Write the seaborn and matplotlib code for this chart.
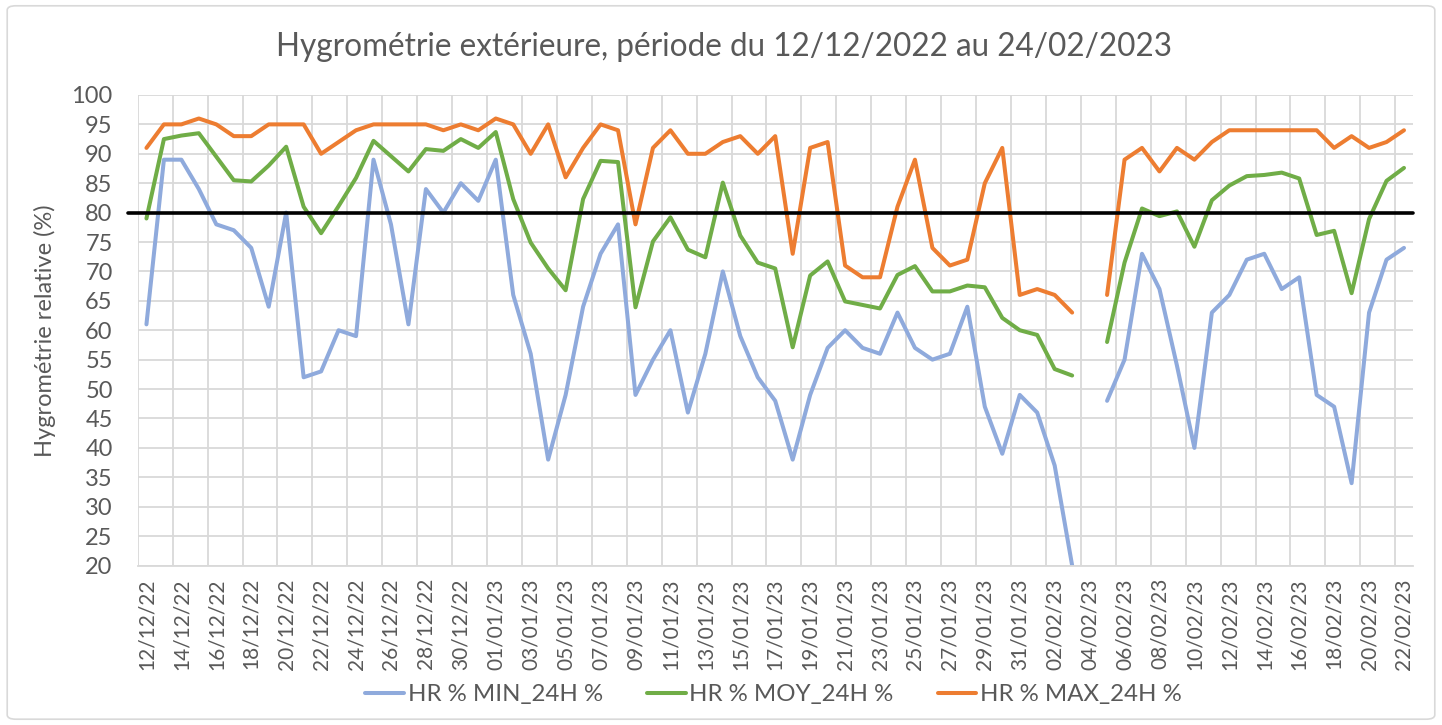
import numpy as np
import pandas as pd
import matplotlib.pyplot as plt
import seaborn as sns
from matplotlib.patches import FancyBboxPatch

nan = np.nan

# 73 jours, du 12/12/22 au 22/02/23 (pas de mesure le 04/02)
dates = pd.date_range("2022-12-12", "2023-02-22", freq="D")

hr_min = [61, 89, 89, 84, 78, 77, 74, 64, 80, 52, 53, 60, 59, 89, 78, 61, 84, 80, 85, 82,
          89, 66, 56, 38, 49, 64, 73, 78, 49, 55, 60, 46, 56, 70, 59, 52, 48, 38, 49, 57,
          60, 57, 56, 63, 57, 55, 56, 64, 47, 39, 49, 46, 37, 20, nan, 48, 55, 73, 67, 54,
          40, 63, 66, 72, 73, 67, 69, 49, 47, 34, 63, 72, 74]
hr_moy = [79.0, 92.5, 93.1, 93.5, 89.5, 85.5, 85.3, 88.0, 91.2, 81.0, 76.5, 81.1, 85.9, 92.2,
          89.6, 87.0, 90.8, 90.5, 92.5, 91.0, 93.7, 82.3, 74.9, 70.5, 66.8, 82.3, 88.8, 88.6,
          63.9, 75.1, 79.2, 73.7, 72.4, 85.1, 76.1, 71.5, 70.5, 57.1, 69.3, 71.7, 64.9, 64.3,
          63.7, 69.4, 70.9, 66.6, 66.6, 67.6, 67.3, 62.1, 60.0, 59.2, 53.4, 52.3, nan, 58.0,
          71.5, 80.7, 79.4, 80.2, 74.2, 82.1, 84.6, 86.2, 86.4, 86.8, 85.8, 76.2, 76.9, 66.3,
          78.9, 85.4, 87.6]
hr_max = [91, 95, 95, 96, 95, 93, 93, 95, 95, 95, 90, 92, 94, 95, 95, 95, 95, 94, 95, 94,
          96, 95, 90, 95, 86, 91, 95, 94, 78, 91, 94, 90, 90, 92, 93, 90, 93, 73, 91, 92,
          71, 69, 69, 81, 89, 74, 71, 72, 85, 91, 66, 67, 66, 63, nan, 66, 89, 91, 87, 91,
          89, 92, 94, 94, 94, 94, 94, 94, 91, 93, 91, 92, 94]
seuil = 80

noms = ["HR % MIN_24H %", "HR % MOY_24H %", "HR % MAX_24H %"]
couleurs = ["#8FAADC", "#70AD47", "#ED7D31"]

rows = []
for nom, vals in zip(noms, [hr_min, hr_moy, hr_max]):
    seg = 0
    for i, v in enumerate(vals):
        if np.isnan(v):
            seg += 1
            continue
        rows.append({"jour": i, "serie": nom, "HR": v, "seg": seg})
df = pd.DataFrame(rows)

sns.set_style("white")
plt.rcParams["font.family"] = ["Lato", "DejaVu Sans"]
gris = "#595959"
grille = "#D9D9D9"

fig = plt.figure(figsize=(14.42, 7.25), dpi=100)
ax = fig.add_axes([0.0955, 0.22, 0.8842, 0.649])

sns.lineplot(data=df, x="jour", y="HR", hue="serie", hue_order=noms, units="seg",
             estimator=None, palette=couleurs, linewidth=2.9, ax=ax,
             solid_joinstyle="round", solid_capstyle="round")
ax.axhline(seuil, color="black", linewidth=2.6, xmin=-0.008, xmax=1.0, clip_on=False, zorder=5)

ax.set_xlim(-0.5, len(dates) - 0.5)
ax.set_ylim(20, 100)
ax.set_yticks(range(20, 101, 5))
ax.set_xticks(np.arange(0, len(dates), 2))
ax.set_xticklabels(dates[::2].strftime("%d/%m/%y"), rotation=90)
ax.set_xticks(np.arange(-0.5, len(dates) - 1, 2), minor=True)

ax.grid(True, axis="y", which="major", color=grille, linewidth=1.3)
ax.grid(True, axis="x", which="minor", color=grille, linewidth=1.3)
ax.grid(False, axis="x", which="major")
for s in ["top", "right", "left"]:
    ax.spines[s].set_visible(False)
ax.spines["bottom"].set_color(grille)
ax.spines["bottom"].set_linewidth(1.3)

ax.tick_params(axis="x", which="major", length=0, pad=9, labelsize=15, labelcolor=gris)
ax.tick_params(axis="x", which="minor", length=6, color=grille, width=1.3)
ax.tick_params(axis="y", length=0, pad=18, labelsize=17, labelcolor=gris)

ax.set_xlabel("")
ax.set_ylabel("Hygrométrie relative (%)", fontsize=17, color=gris, labelpad=11)

fig.suptitle("Hygrométrie extérieure, période du 12/12/2022 au 24/02/2023",
             x=0.502, y=0.935, va="center", fontsize=22.7, color=gris)

handles, labels = ax.get_legend_handles_labels()
ax.legend(handles, labels, loc="center", bbox_to_anchor=(0.5364, 0.042),
          bbox_transform=fig.transFigure, ncol=3, frameon=False, fontsize=17.3,
          handlelength=1.62, handletextpad=0.15, columnspacing=1.83, labelcolor=gris)

fig.patches.append(FancyBboxPatch((0.005, 0.008), 0.99, 0.984,
                                  boxstyle="round,pad=0,rounding_size=0.006",
                                  transform=fig.transFigure, fill=False,
                                  edgecolor=grille, linewidth=1.2))

fig.savefig("out.png", dpi=100)
